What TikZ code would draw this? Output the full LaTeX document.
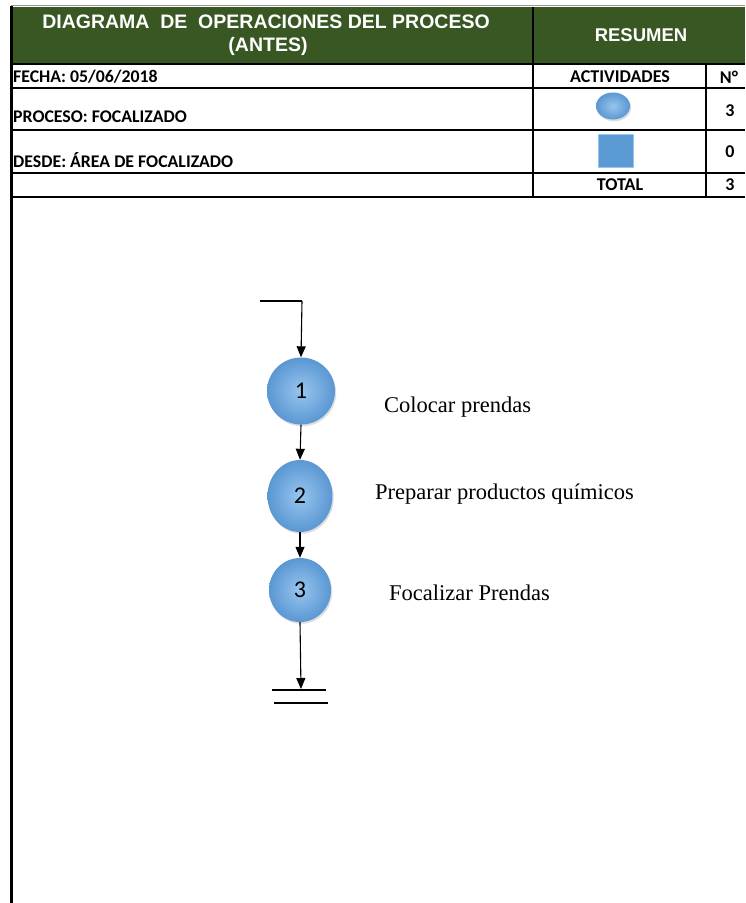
\documentclass[tikz,border=0pt]{standalone}
\usepackage{fontspec}
\setmainfont{Liberation Serif}
\newfontfamily\hdrfont{Liberation Sans}
\newfontfamily\cellfont{Carlito}
\usetikzlibrary{arrows.meta,shapes.geometric,shadows}

\definecolor{hdrgreen}{HTML}{385723}
\definecolor{ballin}{HTML}{98C5EE}
\definecolor{ballout}{HTML}{5A97D3}
\definecolor{sqblue}{HTML}{5B9BD5}

\tikzset{
  rule/.style={line width=2.4pt, black},
  hdr/.style={font=\hdrfont\bfseries\fontsize{19.5}{23}\selectfont, text=white, inner sep=0pt},
  cell/.style={font=\cellfont\bfseries\fontsize{18}{21}\selectfont, inner sep=0pt},
  leftcell/.style={cell, anchor=west, font=\cellfont\bfseries\fontsize{17.8}{21}\selectfont},
  ball/.style={ellipse, draw=none, inner sep=0pt, shading=radial,
    inner color=ballin, outer color=ballout,
    drop shadow={shadow xshift=1.2pt, shadow yshift=-1.8pt, opacity=0.22, fill=black!60}},
  opnode/.style={ball, font=\cellfont\fontsize{24}{27}\selectfont},
  sqicon/.style={rectangle, fill=sqblue, draw=sqblue!60!white, line width=0.6pt,
    minimum width=35pt, minimum height=33pt, inner sep=0pt},
  label/.style={font=\fontsize{22.5}{27}\selectfont, inner sep=0pt, anchor=west},
  flow/.style={line width=1.1pt, black, -{Triangle[length=11pt,width=9pt]}},
  plain/.style={line width=1.1pt, black}
}

\begin{document}
\begin{tikzpicture}[x=1pt,y=-1pt]
  \useasboundingbox (0,0) rectangle (745,903);
  \fill[white] (0,0) rectangle (745,903);

  % header band
  \fill[hdrgreen] (11,7) rectangle (745,64);
  \draw[line width=0.8pt, black!40] (11,5) -- (745,5);

  % table rules
  \draw[rule] (11,64) -- (745,64);
  \draw[rule] (11,88) -- (745,88);
  \draw[rule] (11,130) -- (745,130);
  \draw[rule] (11,173) -- (745,173);
  \draw[rule] (11,197) -- (745,197);
  \draw[rule] (533,7) -- (533,197);
  \draw[rule] (706,64) -- (706,197);
  \draw[line width=3pt, black] (11,6) -- (11,903);

  % header texts
  \node[hdr] (title1) at (266,22) {DIAGRAMA\ \ DE\ \ OPERACIONES DEL PROCESO};
  \node[hdr] (title2) at (268,46) {(ANTES)};
  \node[hdr, font=\hdrfont\bfseries\fontsize{18.5}{22}\selectfont] (resumen) at (641,35) {RESUMEN};

  % left column
  \node[leftcell] (fecha) at (13,77) {FECHA: 05/06/2018};
  \node[leftcell] (proceso) at (13,117) {PROCESO: FOCALIZADO};
  \node[leftcell] (desde) at (13,160) {DESDE: ÁREA DE FOCALIZADO};

  % summary columns
  \node[cell] (actividades) at (620,77) {ACTIVIDADES};
  \node[cell] (numero) at (729,77) {N°};
  \node[ball, minimum width=34pt, minimum height=27pt] (iconop) at (613,106) {};
  \node[sqicon] (iconsq) at (616,151) {};
  \node[cell] (nop) at (730,111) {3};
  \node[cell] (nsq) at (730,152) {0};
  \node[cell] (total) at (620,185) {TOTAL};
  \node[cell] (ntotal) at (730,185) {3};

  % operation nodes
  \node[opnode, minimum width=68pt, minimum height=67pt] (op1) at (301,391) {1};
  \node[opnode, minimum width=65pt, minimum height=72pt] (op2) at (300,496) {2};
  \node[opnode, minimum width=62pt, minimum height=64pt] (op3) at (300,590) {3};

  \node[label] (lab1) at (384,407) {Colocar prendas};
  \node[label] (lab2) at (375,494) {Preparar productos químicos};
  \node[label] (lab3) at (389,593) {Focalizar Prendas};

  % connectors
  \coordinate (start) at (260,301);
  \coordinate (corner) at (302,301);
  \coordinate (finish) at (301,689);
  \draw[plain] (start) -- (corner);
  \draw[flow] (corner) -- (op1.north);
  \draw[flow] (op1.south) -- (op2.north);
  \draw[flow] (op2.south) -- (op3.north);
  \draw[flow] (op3.south) -- (finish);

  % end mark
  \coordinate (endA) at (272,690);
  \coordinate (endB) at (326,690);
  \coordinate (endC) at (274,703);
  \coordinate (endD) at (328,703);
  \draw[plain] (endA) -- (endB);
  \draw[plain] (endC) -- (endD);
\end{tikzpicture}
\end{document}
